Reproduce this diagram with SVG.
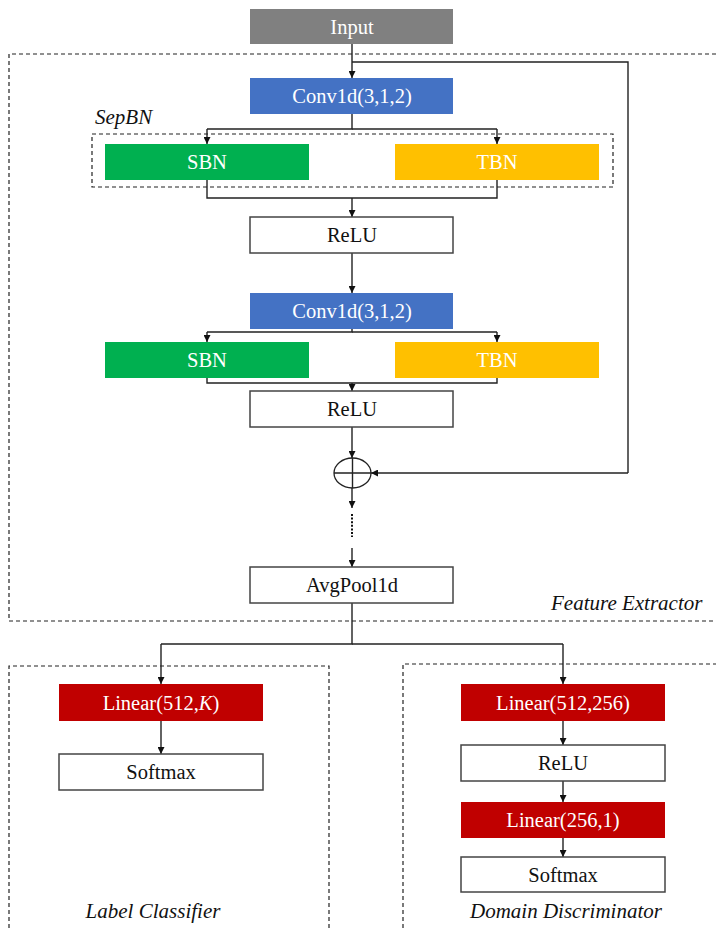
<svg xmlns="http://www.w3.org/2000/svg" width="716" height="928" viewBox="0 0 716 928">
<style>
.t{font-family:"Liberation Serif","Times New Roman",serif;font-size:20.5px;text-anchor:middle;dominant-baseline:central}
.w{fill:#ffffff}
.k{fill:#111111}
.it{font-family:"Liberation Serif","Times New Roman",serif;font-size:21px;font-style:italic;fill:#111111}
.dash{fill:none;stroke:#222222;stroke-width:1.2;stroke-dasharray:4 3}
.box{fill:#ffffff;stroke:#444444;stroke-width:1.5}
.ln{fill:none;stroke:#222222;stroke-width:1.4}
.arr{fill:none;stroke:#222222;stroke-width:1.4;marker-end:url(#ah)}
</style>
<defs>
<marker id="ah" viewBox="0 0 10 10" refX="10" refY="5" markerWidth="7" markerHeight="7" markerUnits="userSpaceOnUse" orient="auto">
<path d="M0,0 L10,5 L0,10 z" fill="#111111"/>
</marker>
</defs>
<rect width="716" height="928" fill="#ffffff"/>

<g id="frames">
<path class="dash" d="M716,54 H9 V621 H716"/>
<rect class="dash" x="92" y="134" width="521" height="53"/>
<path class="dash" d="M9,928 V666 H329 V928"/>
<path class="dash" d="M403,928 V664 H716"/>
<text class="it" x="95" y="124">SepBN</text>
<text class="it" x="551" y="610">Feature Extractor</text>
<text class="it" x="153" y="918" text-anchor="middle">Label Classifier</text>
<text class="it" x="566" y="918" text-anchor="middle">Domain Discriminator</text>
</g>

<g id="connectors">
<path class="arr" d="M352,44 V78"/>
<path class="ln" d="M352,62 H628 V473"/>
<path class="arr" d="M628,473 H371"/>
<path class="ln" d="M352,114 V129 H207"/>
<path class="ln" d="M352,129 H497"/>
<path class="arr" d="M207,129 V144"/>
<path class="arr" d="M497,129 V144"/>
<path class="ln" d="M207,180 V198 H497 V180"/>
<path class="arr" d="M352,198 V217"/>
<path class="arr" d="M352,253 V293"/>
<path class="ln" d="M352,329 V332 H207"/>
<path class="ln" d="M352,332 H497"/>
<path class="arr" d="M207,332 V342"/>
<path class="arr" d="M497,332 V342"/>
<path class="ln" d="M207,378 V383 H497 V378"/>
<path class="arr" d="M352,383 V391"/>
<path class="arr" d="M352,427 V458"/>
<path class="arr" d="M352,488 V508"/>
<path fill="none" stroke="#111111" stroke-width="2" stroke-dasharray="2 1.6" d="M352,514 V537"/>
<path class="arr" d="M352,548 V567"/>
<path class="ln" d="M352,603 V644 H161"/>
<path class="ln" d="M352,644 H563"/>
<path class="arr" d="M161,644 V684"/>
<path class="arr" d="M563,644 V684"/>
<path class="arr" d="M161,721 V754"/>
<path class="arr" d="M563,721 V745"/>
<path class="arr" d="M563,781 V802"/>
<path class="arr" d="M563,838 V857"/>
</g>

<g id="input"><rect x="250" y="9" width="203" height="35" fill="#808080"/><text class="t w" x="352" y="27">Input</text></g>
<g id="conv1"><rect x="250" y="78" width="203" height="36" fill="#4472C4"/><text class="t w" x="352" y="96">Conv1d(3,1,2)</text></g>
<g id="sbn1"><rect x="105" y="144" width="204" height="36" fill="#00B050"/><text class="t w" x="207" y="162">SBN</text></g>
<g id="tbn1"><rect x="395" y="144" width="204" height="36" fill="#FFC000"/><text class="t w" x="497" y="162">TBN</text></g>
<g id="relu1"><rect class="box" x="250" y="217" width="203" height="36"/><text class="t k" x="352" y="235">ReLU</text></g>
<g id="conv2"><rect x="250" y="293" width="203" height="36" fill="#4472C4"/><text class="t w" x="352" y="311">Conv1d(3,1,2)</text></g>
<g id="sbn2"><rect x="105" y="342" width="204" height="36" fill="#00B050"/><text class="t w" x="207" y="360">SBN</text></g>
<g id="tbn2"><rect x="395" y="342" width="204" height="36" fill="#FFC000"/><text class="t w" x="497" y="360">TBN</text></g>
<g id="relu2"><rect class="box" x="250" y="391" width="203" height="36"/><text class="t k" x="352" y="409">ReLU</text></g>
<g id="add"><ellipse cx="352.5" cy="473" rx="18.5" ry="15" fill="#ffffff" stroke="#222222" stroke-width="1.3"/><path class="ln" d="M334,473 H371 M352.5,458 V488"/></g>
<g id="avgpool"><rect class="box" x="250" y="567" width="203" height="36"/><text class="t k" x="352" y="585">AvgPool1d</text></g>
<g id="linK"><rect x="59" y="684" width="204" height="37" fill="#C00000"/><text class="t w" x="161" y="702.5">Linear(512,<tspan font-style="italic">K</tspan>)</text></g>
<g id="softmax1"><rect class="box" x="59" y="754" width="204" height="36"/><text class="t k" x="161" y="772">Softmax</text></g>
<g id="lin256"><rect x="461" y="684" width="204" height="37" fill="#C00000"/><text class="t w" x="563" y="702.5">Linear(512,256)</text></g>
<g id="relu3"><rect class="box" x="461" y="745" width="204" height="36"/><text class="t k" x="563" y="763">ReLU</text></g>
<g id="lin1"><rect x="461" y="802" width="204" height="36" fill="#C00000"/><text class="t w" x="563" y="820">Linear(256,1)</text></g>
<g id="softmax2"><rect class="box" x="461" y="857" width="204" height="35" fill="#ffffff"/><text class="t k" x="563" y="874.5">Softmax</text></g>
</svg>
